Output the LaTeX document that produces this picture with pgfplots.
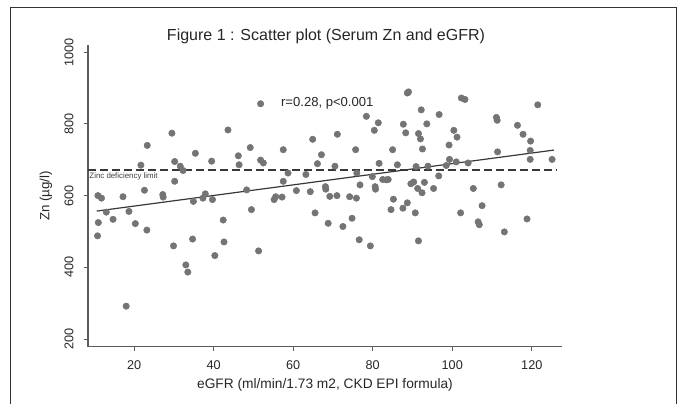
\documentclass[border=0pt]{standalone}
\usepackage{fontspec}
\setmainfont{Liberation Sans}
\usepackage{pgfplots}
\pgfplotsset{compat=1.18}
\definecolor{dotgray}{HTML}{747474}
\definecolor{axisgray}{HTML}{5A5A5A}
\definecolor{linegray}{HTML}{383838}

\begin{document}
\begin{tikzpicture}
\useasboundingbox (0,0) rectangle (510.75pt,302.25pt);
\draw[line width=0.6pt, black!80] (7.5pt,-1pt) -- (7.5pt,296.6pt) -- (507pt,296.6pt) -- (507pt,-1pt);
\node[anchor=base, font=\fontsize{12}{14}\selectfont, text=black!85] at (244.5pt,272pt)
  {Figure 1 : Scatter plot (Serum Zn and eGFR)};
\begin{axis}[
    at={(66pt,42.2pt)}, anchor=south west,
    scale only axis, width=355.5pt, height=226.1pt,
    xmin=8.4, xmax=127.6, ymin=179, ymax=1019,
    axis lines=left,
    axis line style={-, axisgray, line width=0.8pt},
    tick style={axisgray, line width=0.6pt},
    tick align=outside, major tick length=3pt,
    xtick={20,40,...,120}, ytick={200,400,...,1000},
    /pgf/number format/assume math mode=true,
    /pgf/number format/1000 sep={},
    tick label style={font=\fontsize{9.5}{11}\selectfont, text=black!85},
    xticklabel style={anchor=base, yshift=-13.9pt},
    yticklabel style={rotate=90, anchor=base, yshift=8pt},
    xlabel={eGFR (ml/min/1.73 m2, CKD EPI formula)},
    ylabel={Zn (µg/l)},
    every axis x label/.style={at={(axis description cs:0.5,0)}, anchor=base,
      yshift=-31pt, font=\fontsize{10.3}{12}\selectfont, text=black!85},
    every axis y label/.style={at={(axis description cs:0,0.5)}, rotate=90, anchor=base,
      yshift=29pt, font=\fontsize{10}{12}\selectfont, text=black!85},
    clip=false,
]
% zinc deficiency limit
\addplot[linegray, line width=1.2pt, dash pattern=on 6pt off 3pt] coordinates {(8.4,672) (126.1,672)};
\node[anchor=west, inner sep=0pt, font=\fontsize{5.9}{7}\selectfont, text=black!75] at (axis cs:8.7,654) {Zinc deficiency limit};

\addplot[only marks, mark=*, mark size=2.4pt, mark options={fill=dotgray, draw=dotgray}] coordinates {
(10.9,600) (11.8,593) (11.0,525) (10.8,488) (13.0,554) (14.7,534) (17.2,597) (18.7,556)
(18.0,292) (20.3,522) (21.7,685) (23.2,504) (23.3,740) (22.6,615) (27.2,603) (27.3,596)
(29.5,774) (30.2,695) (30.2,640) (29.9,460) (31.6,682) (32.3,670) (33.0,407) (33.5,387)
(34.9,584) (35.4,718) (34.7,479) (37.3,593) (37.9,605) (39.5,696) (39.7,589) (40.3,433)
(42.4,532) (42.6,471) (43.6,783) (46.2,711) (46.4,686) (48.3,616) (49.2,734) (49.5,561)
(51.3,446) (51.8,856) (51.8,699) (52.5,691) (55.2,589) (55.6,597) (57.2,596) (57.5,728)
(57.5,640) (58.7,663) (60.8,614) (63.2,659) (64.3,611) (64.9,757) (65.5,552) (66.1,689)
(67.1,714) (68.1,625) (68.2,618) (68.8,523) (69.2,598) (71.0,600) (70.5,682) (71.1,771)
(72.5,514) (74.2,597) (74.8,537) (75.7,728) (75.9,593) (76.6,477) (76.8,630) (76.0,663)
(78.4,821) (79.4,460) (79.9,653) (80.4,782) (80.6,625) (80.7,618) (81.4,803) (81.6,690)
(82.5,645) (83.4,644) (83.9,645) (84.6,561) (85.0,728) (85.2,590) (86.2,686) (87.6,565)
(87.7,799) (88.3,775) (88.7,886) (89.0,889) (88.7,580) (89.6,633) (90.3,638) (90.7,552)
(90.9,681) (91.5,474) (91.3,620) (91.5,773) (92.0,758) (92.4,608) (92.2,839) (92.5,730)
(93.0,637) (93.6,800) (93.9,682) (95.3,620) (96.6,655) (96.7,826) (99.2,741) (98.5,684)
(99.3,701) (100.4,782) (101.2,763) (101.0,694) (102.3,872) (103.2,868) (102.1,552) (104.0,691)
(105.3,620) (106.5,527) (106.8,519) (107.5,572) (111.1,818) (111.3,810) (111.4,722) (112.3,630)
(113.1,499) (116.4,796) (117.8,771) (118.8,535) (119.7,752) (119.6,726) (119.6,701) (121.5,853)
(125.1,701)
};
% linear fit
\addplot[linegray, line width=0.9pt] coordinates {(10.6,557) (125.6,727)};
\node[anchor=west, inner sep=0pt, font=\fontsize{9.8}{11}\selectfont, text=black!85] at (axis cs:56.9,857) {r=0.28, p<0.001};
\end{axis}
\end{tikzpicture}
\end{document}
